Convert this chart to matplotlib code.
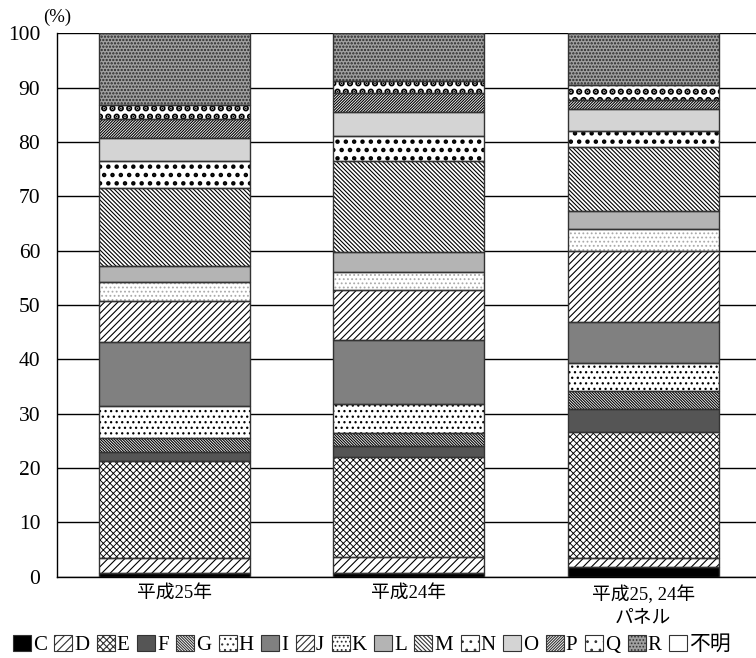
import matplotlib
matplotlib.use("Agg")
import matplotlib.pyplot as plt
from matplotlib.patches import Patch
import numpy as np

plt.rcParams['font.family'] = ['Liberation Serif', 'Noto Sans CJK JP']
plt.rcParams['hatch.linewidth'] = 0.8

# categories (stack order, bottom to top)
cats = ["C", "D", "E", "F", "G", "H", "I", "J", "K", "L", "M", "N", "O", "P", "Q", "R", "不明"]
groups = ["平成25年", "平成24年", "平成25, 24年\nパネル"]

# shares (%), one list per bar
h25 = [0.6, 2.8, 17.8, 1.8, 2.6, 5.9, 11.6, 7.6, 3.5, 3.0, 14.4, 4.9, 4.3, 3.4, 2.6, 13.2, 0.0]
h24 = [0.6, 3.0, 18.5, 2.0, 2.4, 5.3, 11.7, 9.3, 3.2, 3.7, 16.8, 4.6, 4.4, 3.5, 2.3, 8.7, 0.0]
panel = [1.8, 1.6, 23.3, 4.1, 3.3, 5.3, 7.4, 13.2, 3.9, 3.4, 11.7, 3.1, 3.9, 1.7, 2.7, 9.6, 0.0]

# fill style for each category: (facecolor, hatch, hatch colour, hatch width)
styles = {
    "C": ("black", "", "black", 0.8),
    "D": ("white", "////", "black", 0.8),
    "E": ("white", "xxxxx", "black", 0.65),
    "F": ("#555555", "", "#555555", 0.8),
    "G": ("white", "\\" * 12, "black", 0.8),
    "H": ("white", "...", "black", 0.9),
    "I": ("#808080", "", "#808080", 0.8),
    "J": ("white", "/////", "black", 0.8),
    "K": ("white", "....", "#aaaaaa", 0.8),
    "L": ("#b4b4b4", "", "#b4b4b4", 0.8),
    "M": ("white", "\\" * 8, "black", 0.8),
    "N": ("white", "..", "black", 2.0),
    "O": ("#d4d4d4", "", "#d4d4d4", 0.8),
    "P": ("white", "/" * 12, "black", 0.8),
    "Q": ("white", "..", "black", 3.2),
    "R": ("#a0a0a0", ".....", "#262626", 1.1),
    "不明": ("white", "", "white", 0.8),
}

data = np.array([h25, h24, panel])
x = np.arange(len(groups))
width = 0.645

fig = plt.figure(figsize=(7.56, 6.58), dpi=100)
ax = fig.add_axes([0.0754, 0.1236, 0.9306, 0.8258])

bottom = np.zeros(len(groups))
for i, c in enumerate(cats):
    fc, hatch, hc, hlw = styles[c]
    vals = data[:, i]
    with plt.rc_context({'hatch.linewidth': hlw}):
        ax.bar(x, vals, width, bottom=bottom, color=fc, hatch=hatch,
               edgecolor=hc, linewidth=0, zorder=2)
    ax.bar(x, vals, width, bottom=bottom, fill=False, edgecolor="#333333",
           linewidth=1.0, zorder=3)
    bottom += vals

ax.set_xlim(-0.5, 2.5)
ax.set_ylim(0, 100)
ax.set_yticks(range(0, 101, 10))
ax.set_xticks(x)
ax.set_xticklabels(groups, fontsize=13.5, linespacing=1.4)
ax.tick_params(axis="y", length=0, pad=12, labelsize=15.5)
ax.tick_params(axis="x", length=0, pad=6)
ax.grid(axis="y", color="black", linewidth=1.0, zorder=0)
ax.set_axisbelow(True)
for s in ("top", "right"):
    ax.spines[s].set_visible(False)
ax.spines["left"].set_linewidth(1.0)
ax.spines["bottom"].set_linewidth(1.0)

fig.text(0.076, 0.973, "(%)", ha="center", va="center", fontsize=13.5)

handles = []
for c in cats:
    fc, hatch, hc, hlw = styles[c]
    with plt.rc_context({'hatch.linewidth': hlw}):
        handles.append(Patch(facecolor=fc, hatch=hatch, edgecolor="#333333", linewidth=0.8))
fig.legend(handles, cats, loc="center left", bbox_to_anchor=(0.017, 0.020),
           ncol=len(cats), frameon=False, fontsize=15, handlelength=0.86,
           handleheight=0.85, handletextpad=0.1, columnspacing=0.36,
           borderaxespad=0, borderpad=0)

fig.savefig("out.png", dpi=100)
